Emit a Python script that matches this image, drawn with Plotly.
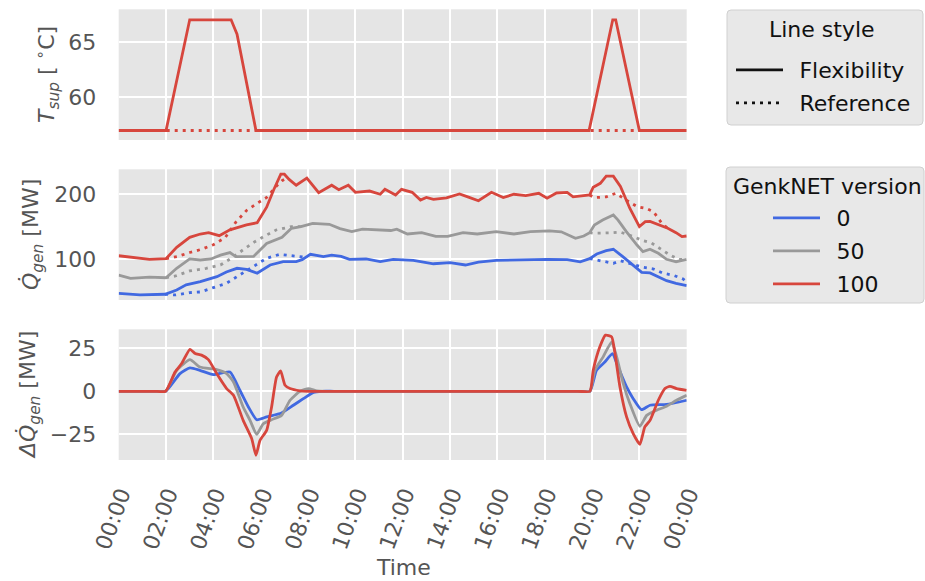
import plotly.graph_objects as go
from plotly.subplots import make_subplots

# ---------------------------------------------------------------- data
# time axis in hours of the day
TICK_HOURS = [0, 2, 4, 6, 8, 10, 12, 14, 16, 18, 20, 22, 24]
TICK_LABELS = ["00:00", "02:00", "04:00", "06:00", "08:00", "10:00", "12:00",
               "14:00", "16:00", "18:00", "20:00", "22:00", "00:00"]

# supply temperature [°C]
tsup_flex_t = [0, 2.0, 3.0, 4.75, 5.0, 5.8, 19.875, 20.875, 21.0, 22.0, 24]
tsup_flex_v = [57, 57, 67, 67, 65.7, 57, 57, 67, 67, 57, 57]
tsup_ref_t = [0, 24]
tsup_ref_v = [57, 57]

# generated heat [MW], flexibility runs
q_red_t = [0, 0.6, 1.3, 2.0, 2.45, 3.0, 3.45, 3.8, 4.25, 4.7, 5.4, 5.85, 6.25, 6.55,
           6.85, 7.0, 7.2, 7.5, 7.95, 8.45, 9.0, 9.3, 9.7, 10.0, 10.6, 11.05, 11.25,
           11.7, 11.95, 12.4, 12.75, 13.0, 13.3, 13.85, 14.4, 14.75, 15.2, 15.75,
           16.25, 16.7, 17.2, 17.75, 18.1, 18.5, 18.95, 19.2, 19.65, 19.9, 20.05,
           20.35, 20.6, 20.9, 21.2, 21.6, 22.0, 22.25, 22.45, 22.8, 23.2, 23.55,
           23.8, 24]
q_red_v = [105, 102, 99.5, 100.5, 118, 133.5, 138.6, 140.6, 136, 145, 152.6, 156, 180,
           207, 231, 231, 223, 214, 225, 202.5, 214, 207, 214, 203, 205, 200, 207.7,
           199, 207.7, 203, 191, 195, 192, 194.6, 200.5, 196, 190, 203, 195, 200,
           198, 201.5, 194, 202, 203, 196, 198, 199, 211, 217, 228, 228, 212, 178,
           150, 157.7, 158, 152.6, 147.4, 140.7, 134.5, 135.5]

q_grey_t = [0, 0.5, 1.3, 2.0, 2.45, 3.0, 3.45, 3.9, 4.3, 4.7, 4.95, 5.7, 6.25, 6.9,
            7.3, 7.7, 8.2, 8.9, 9.35, 9.65, 9.85, 10.3, 11.05, 11.5, 11.75, 12.2,
            12.8, 13.4, 13.9, 14.55, 15.15, 15.95, 16.7, 17.4, 18.2, 18.7, 19.3,
            19.65, 19.9, 20.1, 20.45, 20.9, 21.1, 21.45, 21.9, 22.15, 22.45, 22.8,
            23.15, 23.55, 24]
q_grey_v = [75, 70, 72, 71, 85.6, 100, 98.4, 100, 106, 109.8, 103.5, 104, 124, 133.5,
            147.4, 150, 155, 153.6, 147, 144.8, 142.2, 146, 145, 144, 146, 138.6,
            140.6, 135, 135, 140.6, 138.6, 142.2, 138.6, 142.2, 143.5, 142, 132,
            135.5, 140.6, 152.6, 160.3, 168, 160, 142.2, 121.6, 111.3, 115, 108.8,
            99.5, 95.8, 99.5]

q_blue_t = [0, 0.9, 1.96, 2.45, 2.85, 3.45, 4.15, 4.55, 5.0, 5.4, 5.85, 6.4, 6.95,
            7.5, 7.75, 8.1, 8.65, 9.0, 9.4, 9.75, 10.45, 11.05, 11.6, 12.45, 13.3,
            14.0, 14.65, 15.2, 15.95, 16.7, 17.4, 18.1, 18.95, 19.5, 19.9, 20.2,
            20.6, 20.9, 21.3, 21.75, 22.1, 22.45, 22.75, 23.15, 23.55, 24]
q_blue_v = [46.8, 44.4, 45.5, 52, 60, 65, 72.6, 80, 85.6, 84, 78, 90.7, 95.8, 96, 99,
            107.2, 103.6, 106, 104, 99.5, 100, 95.8, 99.5, 98, 92.6, 94.5, 90.7, 95,
            97.7, 98.4, 98.4, 99.5, 99, 95.6, 100.5, 107.7, 112.8, 115, 103.6, 89.2,
            79.4, 78.5, 73.7, 66.5, 62.4, 58.7]

# generated heat [MW], reference runs (None separates the two divergent periods;
# elsewhere the reference coincides with the flexibility run)
q_red_ref_t = [2.0, 2.5, 3.0, 3.5, 4.0, 4.5, 4.95, 5.4, 5.85, 6.25, 6.65, 6.9, 7.1, None,
               19.9, 20.1, 20.6, 21.0, 21.45, 21.9, 22.3, 22.6, 22.95, 23.2]
q_red_ref_v = [100.5, 104, 110, 115, 122, 133, 157, 175, 186, 195, 212, 221, 225, None,
               199, 194.8, 196, 201.5, 191, 181, 178, 173, 155, 147.4]

q_grey_ref_t = [2.0, 2.4, 3.0, 3.7, 4.3, 4.75, 5.25, 5.75, 6.25, 6.65, 7.3, 7.7, None,
                19.9, 20.1, 20.9, 21.2, 21.75, 22.15, 22.5, 22.85, 23.3, 23.65, 24]
q_grey_ref_v = [71, 73.7, 81.5, 85.6, 90.7, 101, 114, 126.7, 137, 144.8, 150, 150, None,
                140.6, 139.7, 140.6, 141.5, 134.5, 128.3, 125, 116.5, 106, 99.5, 99.5]

q_blue_ref_t = [1.96, 2.4, 3.0, 3.45, 4.0, 4.55, 5.1, 5.7, 6.25, 6.8, 7.1, 7.5, 7.9, None,
                19.9, 20.2, 20.6, 20.9, 21.2, 21.6, 22.15, 22.6, 23.0, 23.45, 23.85, 24]
q_blue_ref_v = [45.5, 44.4, 48, 49, 55.7, 62.4, 75, 88, 101, 107.2, 106, 103.6, 102.5, None,
                100.5, 98.4, 95, 93.3, 97.2, 93.3, 87.2, 84.5, 78, 74.6, 69, 64]

Q_LIMIT = 145  # horizontal reference level in the middle panel

# difference flexibility - reference [MW]
dq_red_t = [0, 1.5, 1.98, 2.38, 2.66, 3.01, 3.23, 3.5, 3.79, 4.14, 4.56, 4.85, 5.26,
            5.62, 5.8, 5.97, 6.25, 6.46, 6.67, 6.84, 7.03, 7.24, 7.66, 8.0, 8.5, 19.4,
            19.91, 20.05, 20.33, 20.57, 20.83, 20.97, 21.18, 21.46, 21.74, 22.02,
            22.23, 22.45, 22.8, 23.08, 23.29, 23.57, 24]
dq_red_v = [0, 0, 0, 11.2, 16.1, 24.4, 21.9, 21, 18.4, 10.3, 1.6, -2.3, -16.9,
            -27.5, -37.2, -28.5, -22.7, -9.1, 8.3, 11.8, 3.5, 1.6, 0.3, 0, 0, 0,
            0, 12.2, 25.8, 32.6, 31.6, 21.9, 2.5, -14.9, -24.6, -30.8,
            -20.7, -16.9, -5.2, 1.6, 2.9, 1.6, 0.6]

dq_grey_t = [0, 1.5, 1.98, 2.45, 3.01, 3.43, 4.14, 4.56, 4.85, 5.26, 5.55, 5.83, 6.11,
             6.46, 6.88, 7.24, 7.66, 8.02, 8.37, 8.8, 9.3, 19.4, 19.91, 20.12, 20.47,
             20.83, 21.04, 21.32, 21.6, 22.02, 22.31, 22.73, 23.15, 23.57, 24]
dq_grey_v = [0, 0, 0, 12.2, 18.4, 14.1, 12.6, 10.3, 5.4, -9.1, -16.9, -25, -18.8,
             -16.5, -14, -5.2, 0, 1.6, 0.2, 0, 0, 0, 0, 12.2, 20,
             28.7, 20, 4.5, -7.2, -20.3, -14, -11, -8.7, -5.2, -2.3]

dq_blue_t = [0, 1.5, 1.98, 2.59, 3.01, 3.43, 4.0, 4.7, 5.12, 5.48, 5.83, 6.25, 6.88,
             7.38, 7.8, 8.23, 8.6, 9.1, 19.4, 19.91, 20.19, 20.54, 20.86, 21.1, 21.46,
             21.74, 22.09, 22.45, 23.15, 24]
dq_blue_v = [0, 0, 0, 10.3, 13.6, 12.2, 9.7, 11.2, 0.6, -9.1, -16.5, -14.9, -12.6,
             -8.1, -4.3, -0.6, 0, 0, 0, 0, 12.2, 17, 21.9, 14.1, 2.5,
             -4.3, -10.7, -8.1, -7.6, -5.2]

VERSIONS = ["0", "50", "100"]
LINE_STYLES = ["Flexibility", "Reference"]

# ---------------------------------------------------------------- style
W, H = 925, 581
FONT = "DejaVu Sans"
TXT = "#555555"
LEG_TXT = "#111111"
PANEL_BG = "#E5E5E5"
COLORS = {"0": "#4169E1", "50": "#999999", "100": "#D7463D"}
LW = 2.8
DOT = "3px,5px"
PAD = "\u00a0\u2009"  # small gap between legend line sample and its label


def px(x):
    return x / W


def py(y):
    return 1 - y / H


fig = make_subplots(rows=3, cols=1, shared_xaxes=True)

# top: supply temperature
fig.add_trace(go.Scatter(x=tsup_ref_t, y=tsup_ref_v, mode="lines", showlegend=False,
                         line=dict(color=COLORS["100"], width=LW, dash=DOT)), row=1, col=1)
fig.add_trace(go.Scatter(x=tsup_flex_t, y=tsup_flex_v, mode="lines", showlegend=False,
                         line=dict(color=COLORS["100"], width=LW)), row=1, col=1)

# middle: generated heat
fig.add_hline(y=Q_LIMIT, line=dict(color="#666666", width=3), layer="below", row=2, col=1)
series_q = [
    ("0", q_blue_t, q_blue_v, q_blue_ref_t, q_blue_ref_v),
    ("50", q_grey_t, q_grey_v, q_grey_ref_t, q_grey_ref_v),
    ("100", q_red_t, q_red_v, q_red_ref_t, q_red_ref_v),
]
for ver, ft, fv, rt, rv in series_q:
    fig.add_trace(go.Scatter(x=rt, y=rv, mode="lines", showlegend=False,
                             line=dict(color=COLORS[ver], width=LW, dash=DOT)), row=2, col=1)
    fig.add_trace(go.Scatter(x=ft, y=fv, mode="lines", showlegend=False,
                             line=dict(color=COLORS[ver], width=LW)), row=2, col=1)

# bottom: difference
fig.add_hline(y=0, line=dict(color="#CACACA", width=3), layer="below", row=3, col=1)
series_dq = [("0", dq_blue_t, dq_blue_v), ("50", dq_grey_t, dq_grey_v),
             ("100", dq_red_t, dq_red_v)]
for ver, t, v in series_dq:
    fig.add_trace(go.Scatter(x=t, y=v, mode="lines", showlegend=False,
                             line=dict(color=COLORS[ver], width=LW, shape="spline",
                                       smoothing=0.5)), row=3, col=1)

# legend entries
for name, dash in zip(LINE_STYLES, ["solid", DOT]):
    fig.add_trace(go.Scatter(x=[None], y=[None], mode="lines", name=PAD + name,
                             legend="legend", legendgroup="ls_" + name,
                             line=dict(color=LEG_TXT, width=LW, dash=dash)), row=1, col=1)
for ver in VERSIONS:
    fig.add_trace(go.Scatter(x=[None], y=[None], mode="lines", name=PAD + ver,
                             legend="legend2", legendgroup="v" + ver,
                             line=dict(color=COLORS[ver], width=LW)), row=1, col=1)

# ---------------------------------------------------------------- axes
x_dom = [px(118.7), px(686.7)]
y_doms = [[py(140), py(9.3)], [py(300), py(169.3)], [py(460), py(329.3)]]
y_ranges = [[56.14, 67.95], [36.6, 238.6], [-39.9, 36.0]]
y_ticks = [[60, 65], [100, 200], [-25, 0, 25]]

for i in range(3):
    xa = "xaxis" if i == 0 else f"xaxis{i + 1}"
    ya = "yaxis" if i == 0 else f"yaxis{i + 1}"
    fig.layout[xa].update(
        domain=x_dom, range=[0, 24], tickvals=TICK_HOURS, ticktext=TICK_LABELS,
        showgrid=True, gridcolor="white", gridwidth=2, zeroline=False,
        showline=False, showticklabels=(i == 2), ticks="", automargin=False,
        tickangle=-70, tickfont=dict(family=FONT, size=22, color=TXT),
    )
    fig.layout[ya].update(
        domain=y_doms[i], range=y_ranges[i], tickvals=y_ticks[i], automargin=False,
        showgrid=True, gridcolor="white", gridwidth=2, zeroline=False,
        showline=False, ticks="outside", ticklen=17, tickcolor="rgba(0,0,0,0)",
        tickfont=dict(family=FONT, size=22, color=TXT),
    )
fig.layout.xaxis3.update(ticklabelshift=2, ticklabelstandoff=16)

# axis titles
ann = dict(xref="paper", yref="paper", showarrow=False, xanchor="center",
           yanchor="middle", font=dict(family=FONT, size=22, color=TXT))
fig.add_annotation(x=px(47), y=py(75), textangle=-90,
                   text="<i>T</i><sub><i>sup</i></sub> [ <sup>∘</sup>C]", **ann)
fig.add_annotation(x=px(33), y=py(235), textangle=-90,
                   text="<i>Q̇</i><sub><i>gen</i></sub> [MW]", **ann)
fig.add_annotation(x=px(29), y=py(395), textangle=-90,
                   text="<i>ΔQ̇</i><sub><i>gen</i></sub> [MW]", **ann)
fig.add_annotation(x=px(403), y=py(567), text="Time", **ann)

# legend frames and titles
def rounded_box(x0, y0, x1, y1, r=4):
    X0, X1 = px(x0), px(x1)
    Y0, Y1 = py(y0), py(y1)
    rx, ry = r / W, r / H
    return (f"M{X0 + rx},{Y0} L{X1 - rx},{Y0} Q{X1},{Y0} {X1},{Y0 - ry} "
            f"L{X1},{Y1 + ry} Q{X1},{Y1} {X1 - rx},{Y1} L{X0 + rx},{Y1} "
            f"Q{X0},{Y1} {X0},{Y1 + ry} L{X0},{Y0 - ry} Q{X0},{Y0} {X0 + rx},{Y0} Z")


for box in [(727, 10, 923, 125), (726, 167, 924, 303)]:
    fig.add_shape(type="path", path=rounded_box(*box), xref="paper", yref="paper",
                  fillcolor="#E8E8E8", line=dict(color="#D0D0D0", width=1), layer="below")

leg_ann = dict(ann, font=dict(family=FONT, size=22, color=LEG_TXT))
fig.add_annotation(x=px(822), y=py(30), text="Line style", **leg_ann)
fig.add_annotation(x=px(827), y=py(186), text="GenkNET version", **leg_ann)

leg = dict(bgcolor="rgba(0,0,0,0)", borderwidth=0, xanchor="left", yanchor="top",
           font=dict(family=FONT, size=22, color=LEG_TXT), itemwidth=47,
           tracegroupgap=1.4, orientation="v", title=dict(text=""))
fig.update_layout(
    legend=dict(x=px(731), y=py(49), **leg),
    legend2=dict(x=px(768), y=py(197), **leg),
)

fig.update_layout(
    width=W, height=H, margin=dict(l=0, r=0, t=0, b=0, autoexpand=False),
    paper_bgcolor="white", plot_bgcolor=PANEL_BG,
    font=dict(family=FONT, color=TXT),
)

fig.write_html("out.html")
